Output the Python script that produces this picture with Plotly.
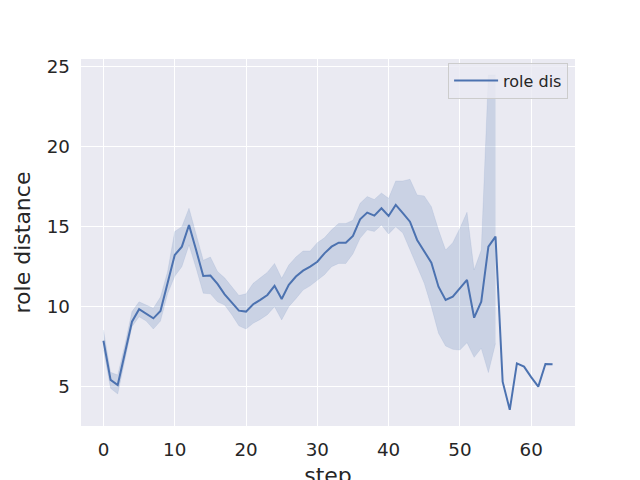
import plotly.graph_objects as go

# mean role distance per step, with the 95% band seaborn drew around it
steps = list(range(64))
role_dis = [7.87, 5.42, 5.1, 7.08, 9.06, 9.84, 9.58, 9.27, 9.73, 11.56,
            13.23, 13.75, 15.1, 13.54, 11.92, 11.94, 11.42, 10.77, 10.25, 9.75,
            9.69, 10.15, 10.42, 10.73, 11.3, 10.48, 11.36, 11.88, 12.25, 12.5,
            12.81, 13.33, 13.75, 14.0, 14.0, 14.42, 15.46, 15.88, 15.69, 16.15,
            15.67, 16.36, 15.84, 15.31, 14.17, 13.44, 12.75, 11.25, 10.42, 10.63,
            11.15, 11.67, 9.31, 10.31, 13.75, 14.38, 5.31, 3.55, 6.45, 6.25,
            5.6, 5.0, 6.42, 6.4]
ci_upper = [8.54, 5.9, 5.73, 7.6, 9.69, 10.3, 10.1, 9.9, 10.6, 12.2,
            14.7, 15.0, 16.15, 14.6, 12.9, 13.1, 12.2, 11.8, 11.25, 10.7,
            10.8, 11.46, 11.8, 12.15, 12.7, 11.77, 12.6, 13.1, 13.48, 13.48,
            14.0, 14.3, 14.8, 15.2, 15.2, 15.4, 16.46, 16.88, 16.7, 17.1,
            16.77, 17.86, 17.86, 17.96, 16.98, 16.92, 16.25, 14.8, 13.54, 14.0,
            14.9, 15.9, 12.3, 13.54, 24.48, 24.48] + [None] * 8
ci_lower = [7.3, 4.9, 4.54, 6.6, 8.75, 9.37, 9.1, 8.6, 9.1, 10.8,
            11.9, 12.5, 13.86, 12.4, 10.84, 10.8, 10.3, 10.1, 9.5, 8.8,
            8.6, 8.96, 9.2, 9.5, 10.0, 9.17, 10.0, 10.5, 11.04, 11.3,
            11.67, 12.0, 12.5, 12.7, 12.7, 13.3, 14.27, 14.8, 14.7, 15.1,
            14.54, 15.0, 14.6, 13.54, 12.5, 11.46, 10.0, 8.34, 7.54, 7.33,
            7.29, 7.75, 6.83, 7.4, 5.88, 7.7] + [None] * 8

blue = '#4C72B0'
band = 'rgba(76,114,176,0.2)'
ink = '#262626'

fig = go.Figure()
fig.add_trace(go.Scatter(x=steps, y=ci_upper, mode='lines',
                         line=dict(color=band, width=0.5),
                         showlegend=False, hoverinfo='skip'))
fig.add_trace(go.Scatter(x=steps, y=ci_lower, mode='lines',
                         line=dict(color=band, width=0.5), fill='tonexty',
                         fillcolor=band, showlegend=False, hoverinfo='skip'))
fig.add_trace(go.Scatter(x=steps, y=role_dis, mode='lines', name='role dis',
                         line=dict(color=blue, width=2)))

# the page body adds 8px on the left/top, so margins are shifted to match
fig.update_layout(
    width=640, height=480,
    paper_bgcolor='white', plot_bgcolor='#EAEAF2',
    margin=dict(l=73, r=73, t=51, b=62),
    font=dict(family='DejaVu Sans', size=18.3, color=ink),
    legend=dict(x=0.986, y=0.99, xanchor='right', yanchor='top',
                bgcolor='rgba(234,234,242,0.8)', bordercolor='#CCCCCC',
                borderwidth=1, itemwidth=44, font=dict(size=16, color=ink)),
    showlegend=True,
)
fig.update_xaxes(range=[-3.15, 66.15], tickvals=[0, 10, 20, 30, 40, 50, 60],
                 showgrid=True, gridcolor='white', gridwidth=1.3,
                 zeroline=False, showline=False, ticks='', automargin=False,
                 ticklabelstandoff=11,
                 title=dict(text='step', standoff=16))
fig.update_yaxes(range=[2.54, 25.48], tickvals=[5, 10, 15, 20, 25],
                 showgrid=True, gridcolor='white', gridwidth=1.3,
                 zeroline=False, showline=False, ticks='', automargin=False,
                 ticklabelstandoff=10,
                 title=dict(text='role distance', standoff=10))

fig.write_html("out.html")
